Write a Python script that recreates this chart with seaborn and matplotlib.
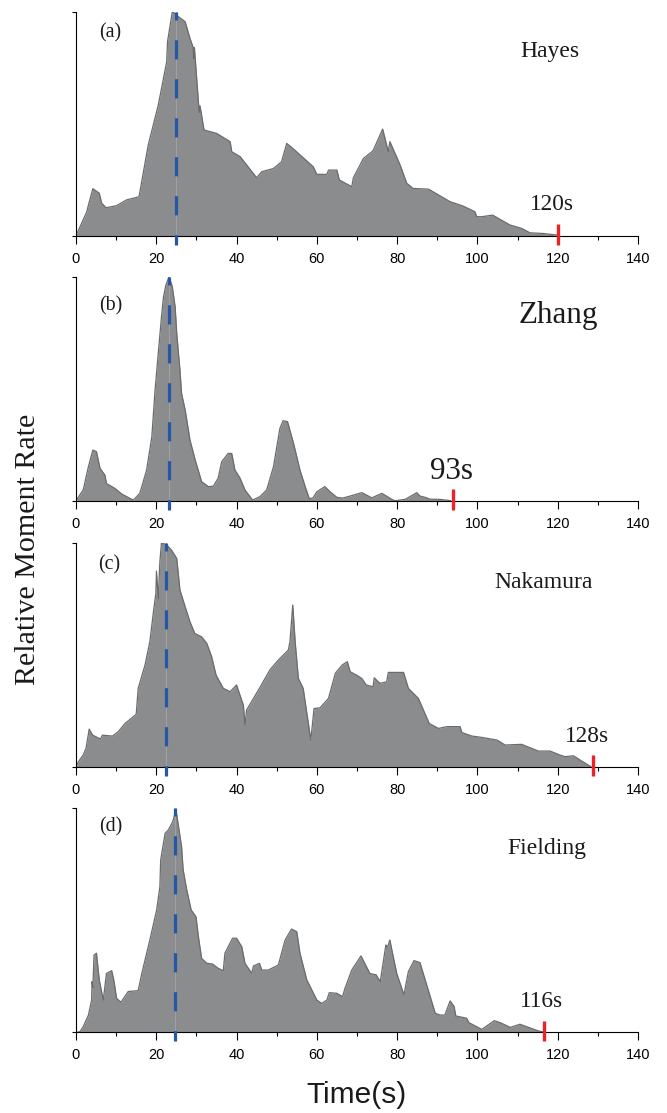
import matplotlib
matplotlib.use("Agg")
import matplotlib.pyplot as plt
import seaborn as sns

# ---------------- data (normalised moment rate vs time) ----------------
t_a = [0, 2.7, 3.1, 4.2, 5.8, 6.4, 7.5, 10.1, 12.6, 15.7, 18.0, 20.5, 22.6, 22.8, 24.0,
       25.5, 27.2, 28.4, 29.2, 29.3, 29.5, 30.5, 30.7, 30.9, 31.9, 35.0, 38.4, 38.8, 40.9,
       45.0, 46.3, 49.2, 51.2, 52.5, 54.0, 59.1, 60.0, 62.5, 62.9, 65.0, 65.6, 68.7, 69.1,
       71.6, 74.0, 76.4, 77.8, 78.2, 80.7, 82.4, 84.0, 87.8, 93.2, 96.5, 99.4, 99.8, 101.1,
       103.8, 108.1, 111.0, 113.1, 116.4, 119.8, 120.2]
v_a = [0, 0.107, 0.137, 0.21, 0.19, 0.145, 0.125, 0.134, 0.16, 0.174, 0.405, 0.583, 0.777, 0.866, 1.0,
       0.978, 0.955, 0.881, 0.84, 0.79, 0.84, 0.598, 0.55, 0.58, 0.472, 0.457, 0.42, 0.375, 0.353,
       0.259, 0.286, 0.30, 0.33, 0.412, 0.39, 0.308, 0.274, 0.274, 0.293, 0.293, 0.249, 0.219, 0.259,
       0.345, 0.379, 0.476, 0.375, 0.42, 0.318, 0.234, 0.211, 0.208, 0.152, 0.132, 0.107, 0.085, 0.085,
       0.092, 0.048, 0.033, 0.013, 0.010, 0.003, 0.0]

t_b = [0, 1.8, 3.1, 4.2, 5.1, 6.0, 7.2, 7.6, 9.7, 11.4, 13.5, 14.3, 15.9, 17.6, 18.9, 19.7,
       20.5, 21.3, 21.8, 22.4, 23.2, 24.0, 24.7, 25.1, 25.9, 26.3, 27.2, 28.4, 29.7, 31.3,
       33.0, 34.2, 35.4, 36.3, 37.9, 38.8, 39.6, 40.9, 42.1, 44.0, 45.8, 47.5, 49.2, 50.8,
       51.6, 52.7, 54.2, 55.8, 57.1, 58.1, 59.0, 60.0, 62.0, 63.3, 65.0, 66.5, 68.3, 71.2,
       73.7, 76.2, 78.7, 79.5, 82.0, 84.9, 85.7, 87.0, 88.2, 90.7, 93.4]
v_b = [0, 0.048, 0.152, 0.226, 0.219, 0.144, 0.115, 0.077, 0.055, 0.03, 0.01, 0.003, 0.033, 0.137, 0.286, 0.494,
       0.658, 0.821, 0.91, 0.963, 1.0, 0.955, 0.866, 0.747, 0.583, 0.479, 0.405, 0.271, 0.182, 0.085,
       0.063, 0.065, 0.1, 0.174, 0.211, 0.211, 0.137, 0.1, 0.048, 0.003, 0.018, 0.048, 0.152, 0.323,
       0.357, 0.353, 0.256, 0.137, 0.063, 0.01, 0.012, 0.04, 0.063, 0.04, 0.015, 0.012, 0.021, 0.036,
       0.013, 0.033, 0.006, 0.0, 0.006, 0.036, 0.021, 0.015, 0.007, 0.006, 0.0]

t_c = [0, 0.6, 1.8, 2.5, 3.3, 4.15, 6.1, 6.6, 9.1, 10.5, 12.2, 15.0, 15.5, 17.2, 18.4, 19.3,
       19.9, 20.05, 20.5, 20.9, 21.3, 22.6, 23.8, 25.1, 25.9, 27.2, 28.4, 29.6, 31.3, 32.6,
       33.8, 34.9, 36.7, 38.4, 40.0, 41.7, 42.1, 42.5, 45.7, 48.3, 50.4, 52.9, 53.3, 54.0,
       54.6, 55.4, 56.6, 58.5, 59.3, 60.8, 62.9, 64.6, 66.3, 67.6, 68.3, 69.9, 71.2, 72.3,
       74.0, 74.3, 75.7, 77.4, 77.8, 81.6, 82.8, 85.3, 88.0, 90.3, 92.4, 95.7, 96.1, 98.6,
       101.1, 104.9, 106.9, 111.0, 115.2, 118.1, 120.6, 121.8, 123.9, 126.0, 128.3]
v_c = [0, 0.022, 0.052, 0.082, 0.168, 0.141, 0.124, 0.141, 0.137, 0.156, 0.193, 0.234, 0.35, 0.454, 0.558, 0.692,
       0.774, 0.873, 0.75, 0.915, 1.0, 0.99, 0.967, 0.93, 0.789, 0.714, 0.647, 0.595, 0.58, 0.55,
       0.491, 0.409, 0.35, 0.335, 0.365, 0.275, 0.186, 0.253, 0.35, 0.432, 0.476, 0.521, 0.558, 0.722,
       0.558, 0.394, 0.35, 0.119, 0.26, 0.263, 0.305, 0.417, 0.454, 0.469, 0.424, 0.409, 0.394, 0.365,
       0.357, 0.397, 0.372, 0.379, 0.421, 0.421, 0.35, 0.305, 0.193, 0.171, 0.179, 0.179, 0.153, 0.137,
       0.131, 0.119, 0.097, 0.1, 0.07, 0.07, 0.052, 0.045, 0.049, 0.025, 0.0]

t_d = [0, 1.0, 1.8, 3.1, 3.9, 4.0, 4.2, 4.5, 5.1, 5.8, 6.8, 7.6, 8.9, 9.5, 10.1, 11.2, 13.0,
       15.5, 16.4, 18.4, 20.1, 20.9, 21.1, 22.2, 23.0, 24.1, 24.9, 25.3, 26.3, 26.7, 27.6,
       28.7, 29.9, 30.5, 31.3, 32.6, 34.0, 35.4, 36.7, 37.1, 39.0, 40.0, 41.3, 42.1, 43.8,
       44.2, 45.7, 46.3, 47.9, 50.4, 52.1, 53.7, 55.0, 55.8, 57.5, 60.0, 61.2, 62.5, 63.1,
       65.0, 66.4, 67.0, 68.7, 71.0, 73.2, 74.8, 75.8, 77.2, 77.6, 78.2, 78.6, 79.9, 81.7,
       82.8, 84.2, 85.7, 86.5, 88.0, 89.5, 90.7, 91.9, 93.2, 94.2, 94.6, 97.3, 97.9, 101.1,
       104.2, 105.7, 108.2, 110.6, 112.3, 115.2, 116.9]
v_d = [0, 0.003, 0.025, 0.077, 0.144, 0.226, 0.20, 0.345, 0.353, 0.234, 0.144, 0.263, 0.275, 0.226, 0.152, 0.134, 0.182,
       0.186, 0.263, 0.412, 0.546, 0.65, 0.769, 0.888, 0.903, 0.94, 0.993, 0.948, 0.829, 0.725, 0.635,
       0.546, 0.516, 0.427, 0.33, 0.308, 0.305, 0.286, 0.275, 0.353, 0.42, 0.42, 0.382, 0.308, 0.263,
       0.296, 0.308, 0.278, 0.278, 0.3, 0.412, 0.461, 0.449, 0.353, 0.234, 0.144, 0.129, 0.144, 0.177,
       0.174, 0.159, 0.196, 0.278, 0.341, 0.263, 0.256, 0.226, 0.39, 0.38, 0.412, 0.375, 0.263, 0.167,
       0.271, 0.32, 0.311, 0.263, 0.174, 0.085, 0.077, 0.077, 0.14, 0.115, 0.073, 0.063, 0.043, 0.013,
       0.052, 0.043, 0.022, 0.036, 0.025, 0.006, 0.0]

panel_tags = ["(a)", "(b)", "(c)", "(d)"]
model_names = ["Hayes", "Zhang", "Nakamura", "Fielding"]
peak_times = [24.9, 23.1, 22.4, 24.7]          # blue dashed lines
end_times = [120.0, 94.0, 128.7, 116.5]        # red markers
end_labels = ["120s", "93s", "128s", "116s"]
x_ticks = [0, 20, 40, 60, 80, 100, 120, 140]
x_minor = [10, 30, 50, 70, 90, 110, 130]

# text placement (data coords) and sizes
tag_pos = [(8.55, 0.884), (8.55, 0.851), (8.2, 0.879), (8.55, 0.897)]
name_pos = [(118.0, 0.799), (120.2, 0.795), (116.5, 0.799), (117.2, 0.796)]
name_size = [17, 22.3, 17, 17]
end_pos = [(118.7, 0.115), (93.6, 0.0955), (127.4, 0.109), (116.0, 0.114)]
end_size = [16.8, 22.3, 16.8, 16.8]

series = [(t_a, v_a), (t_b, v_b), (t_c, v_c), (t_d, v_d)]

# ---------------- style ----------------
sns.set_theme(style="white")
plt.rcParams["font.family"] = ["Liberation Serif", "DejaVu Serif"]

FILL = "#8b8c8e"
EDGE = "#6a6b6d"
BLUE = "#2557a7"
RED = "#ec2227"

fig = plt.figure(figsize=(6.67, 11.13), dpi=100)
bottoms = [0.7882, 0.5501, 0.3111, 0.0725]
left, width, height = 0.1139, 0.8426, 0.2013

for i, (t, v) in enumerate(series):
    ax = fig.add_axes([left, bottoms[i], width, height])
    ax.fill_between(t, v, 0, color=FILL, lw=0, zorder=1)
    sns.lineplot(x=t, y=v, ax=ax, color=EDGE, lw=0.9, estimator=None, sort=False,
                 zorder=2, legend=False)
    # thin guide line behind dashes
    ax.plot([peak_times[i]] * 2, [0, 1.0], color="#a3a4a6", lw=0.6, zorder=3)
    ax.plot([peak_times[i]] * 2, [1.0, -0.041], color=BLUE, lw=2.3,
            linestyle=(3.5, (6.0, 6.2)), clip_on=False, zorder=5)
    ax.plot([end_times[i]] * 2, [0.051, -0.041], color=RED, lw=2.4,
            clip_on=False, zorder=5, solid_capstyle="butt")

    ax.set_xlim(0, 140)
    ax.set_ylim(0, 1.0)
    ax.set_xticks(x_ticks)
    ax.set_xticks(x_minor, minor=True)
    ax.set_xticklabels([str(x) for x in x_ticks], family="Liberation Sans", fontsize=10.5)
    ax.set_yticks([0, 1])
    ax.set_yticklabels([])
    ax.tick_params(axis="x", which="major", direction="out", length=6, width=0.8,
                   color="black", pad=5.5, labelcolor="black", bottom=True)
    ax.tick_params(axis="x", which="minor", direction="out", length=3, width=0.8,
                   color="black", bottom=True)
    ax.tick_params(axis="y", direction="out", length=3, width=0.8, color="black", left=True)
    sns.despine(ax=ax)
    for s in ("left", "bottom"):
        ax.spines[s].set_color("black")
        ax.spines[s].set_linewidth(0.8)
        ax.spines[s].set_zorder(4)
    ax.set_xlabel("")
    ax.set_ylabel("")
    ax.set_facecolor("none")

    ax.text(*tag_pos[i], panel_tags[i], ha="center", va="baseline", fontsize=14.4, color="#1a1a1a")
    ax.text(*name_pos[i], model_names[i], ha="center", va="baseline", fontsize=name_size[i],
            color="#1a1a1a")
    ax.text(*end_pos[i], end_labels[i], ha="center", va="baseline", fontsize=end_size[i],
            color="#1a1a1a")

fig.text(0.042, 0.506, "Relative Moment Rate", rotation=90, ha="center", va="center",
         fontsize=21.6, color="#1a1a1a")
fig.text(0.535, 0.0162, "Time(s)", ha="center", va="center", family="Liberation Sans",
         fontsize=21.5, color="#1a1a1a")

fig.savefig("out.png", dpi=100, facecolor="white")
